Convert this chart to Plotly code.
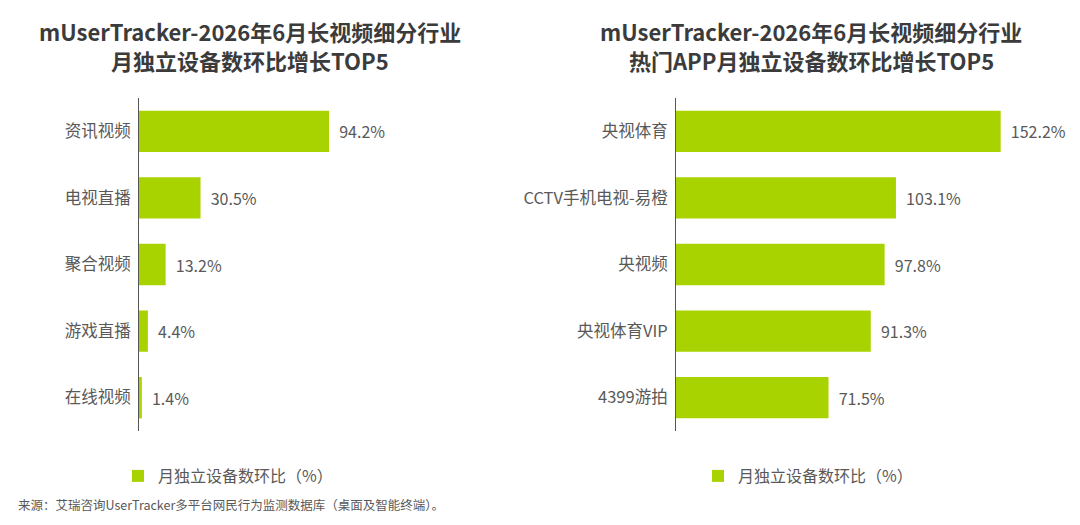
import plotly.graph_objects as go

left_categories = ["资讯视频", "电视直播", "聚合视频", "游戏直播", "在线视频"]
left_values = [94.2, 30.5, 13.2, 4.4, 1.4]

right_categories = ["央视体育", "CCTV手机电视-易橙", "央视频", "央视体育VIP", "4399游拍"]
right_values = [152.2, 103.1, 97.8, 91.3, 71.5]

left_title_lines = ["mUserTracker-2026年6月长视频细分行业", "月独立设备数环比增长TOP5"]
right_title_lines = ["mUserTracker-2026年6月长视频细分行业", "热门APP月独立设备数环比增长TOP5"]
series_name = "月独立设备数环比（%）"
source_text = "来源：艾瑞咨询UserTracker多平台网民行为监测数据库（桌面及智能终端）。"

# page body has an 8px margin; figure is sized to fit the window
OFF = 8
W, H = 1080 - OFF * 2, 525 - OFF * 2
FONT = "Noto Sans CJK SC"
BAR = "#a9d300"
TXT = "#595959"
TITLE = "#3b3b3b"


def px(x):
    return (x - OFF) / W


def py(y):
    return 1 - (y - OFF) / H


fig = go.Figure()
fig.add_trace(go.Bar(
    x=left_values, y=left_categories, orientation="h",
    marker=dict(color=BAR, line=dict(width=0)),
    name=series_name, xaxis="x", yaxis="y", legend="legend",
    text=[f"{v}%" for v in left_values], textposition="outside",
    texttemplate="  %{text}", cliponaxis=False,
    textfont=dict(size=16, color=TXT, family=FONT),
))
fig.add_trace(go.Bar(
    x=right_values, y=right_categories, orientation="h",
    marker=dict(color=BAR, line=dict(width=0)),
    name=series_name, xaxis="x2", yaxis="y2", legend="legend2",
    text=[f"{v}%" for v in right_values], textposition="outside",
    texttemplate="  %{text}", cliponaxis=False,
    textfont=dict(size=16, color=TXT, family=FONT),
))

ydom = [py(431), py(98)]
common_y = dict(autorange="reversed", showline=True, linecolor="#555555", linewidth=1,
                ticks="", showgrid=False, zeroline=False,
                tickfont=dict(size=16.5, color=TXT, family=FONT), ticklabelstandoff=4)
common_x = dict(showline=False, showgrid=False, zeroline=False, showticklabels=False, ticks="")

annotations = []
for lines, cx in ((left_title_lines, 250), (right_title_lines, 811)):
    for line, cy in zip(lines, (31, 60)):
        annotations.append(dict(
            text="<b>" + line + "</b>", x=px(cx), y=py(cy), xref="paper", yref="paper",
            xanchor="center", yanchor="middle", showarrow=False, borderpad=0,
            font=dict(size=22, color=TITLE, family=FONT)))
annotations.append(dict(
    text=source_text, x=px(16), y=py(516), xref="paper", yref="paper",
    xanchor="left", yanchor="bottom", showarrow=False,
    font=dict(size=12.5, color=TXT, family=FONT)))

fig.update_layout(
    width=W, height=H,
    margin=dict(l=0, r=0, t=0, b=0),
    plot_bgcolor="white", paper_bgcolor="white",
    font=dict(family=FONT, color=TXT),
    bargap=0.38,
    xaxis=dict(domain=[px(139), px(480)], range=[0, 169], anchor="y", **common_x),
    yaxis=dict(domain=ydom, anchor="x", **common_y),
    xaxis2=dict(domain=[px(676), px(1060)], range=[0, 180], anchor="y2", **common_x),
    yaxis2=dict(domain=ydom, anchor="x2", **common_y),
    legend=dict(x=px(118), y=py(476), xanchor="left", yanchor="middle",
                font=dict(size=16, color=TXT, family=FONT), bgcolor="rgba(0,0,0,0)"),
    legend2=dict(x=px(698), y=py(476), xanchor="left", yanchor="middle",
                 font=dict(size=16, color=TXT, family=FONT), bgcolor="rgba(0,0,0,0)"),
    showlegend=True,
    annotations=annotations,
)

fig.write_html("out.html")
